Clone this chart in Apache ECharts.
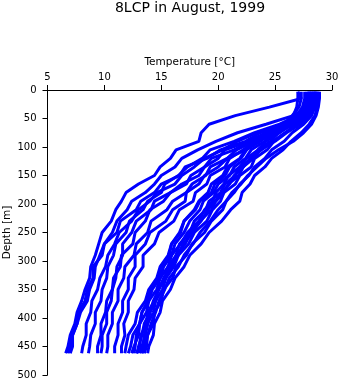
<!DOCTYPE html>
<html>
<head>
<meta charset="utf-8">
<script src="https://cdn.jsdelivr.net/npm/echarts@6/dist/echarts.min.js"></script>
<style>
  html, body { margin: 0; padding: 0; background: #fff; }
  #chart { width: 341px; height: 384px; }
</style>
</head>
<body>
<div id="chart"></div>
<script>
// Sampling depths (m) shared by every CTD cast
const depths = [3, 15, 30, 45, 60, 75, 90, 105, 120, 135, 150, 165, 180, 195, 210, 230, 250, 270, 290, 310, 330, 350, 370, 390, 410, 430, 450, 462];

// Temperature (°C) per cast at the depths above
const cast01 = [27.0, 27.3, 24.5, 21.5, 19.2, 18.5, 18.3, 16.3, 15.8, 14.9, 14.4, 13.0, 11.9, 11.5, 11.0, 10.6, 9.8, 9.5, 9.2, 8.8, 8.7, 8.3, 8.0, 7.6, 7.4, 7.0, 6.8, 6.6];
const cast02 = [28.2, 28.2, 27.8, 26.6, 24.2, 21.7, 19.8, 18.2, 16.8, 16.2, 15.0, 14.4, 13.6, 12.4, 12.0, 11.1, 10.7, 10.0, 9.6, 9.2, 9.1, 8.7, 8.5, 7.9, 7.6, 7.2, 7.0, 6.8];
const cast03 = [28.4, 28.4, 28.2, 27.5, 25.8, 23.4, 21.7, 20.4, 18.8, 17.9, 16.8, 16.2, 14.6, 14.0, 13.0, 12.4, 11.3, 10.9, 10.3, 10.1, 9.6, 9.4, 8.9, 8.8, 8.4, 8.4, 8.1, 8.0];
const cast04 = [27.9, 27.9, 27.7, 27.0, 25.4, 23.2, 21.4, 19.3, 18.6, 17.3, 16.5, 15.3, 15.0, 13.8, 13.4, 12.2, 11.9, 11.0, 10.8, 10.3, 10.2, 9.8, 9.7, 9.2, 9.2, 8.8, 8.7, 8.6];
const cast05 = [28.6, 28.6, 28.4, 27.9, 26.8, 24.9, 22.8, 21.4, 19.4, 18.8, 17.6, 17.2, 15.8, 15.2, 14.0, 13.6, 12.7, 12.5, 11.5, 11.4, 10.8, 10.7, 10.2, 10.1, 9.7, 9.7, 9.4, 9.4];
const cast06 = [27.6, 27.6, 27.4, 26.9, 25.9, 24.2, 22.7, 20.6, 20.0, 18.8, 18.3, 16.8, 15.8, 14.4, 14.1, 12.8, 12.4, 11.6, 11.6, 11.1, 11.0, 10.7, 10.6, 10.2, 10.2, 9.8, 9.8, 9.7];
const cast07 = [28.5, 28.5, 28.3, 27.6, 26.2, 24.5, 23.1, 21.6, 20.8, 19.3, 18.9, 17.7, 17.2, 16.0, 15.5, 14.1, 13.8, 12.8, 12.6, 11.8, 11.7, 11.2, 11.2, 10.7, 10.7, 10.3, 10.3, 10.2];
const cast08 = [28.1, 28.1, 27.9, 27.3, 26.4, 25.2, 23.4, 22.4, 20.8, 20.0, 18.8, 18.3, 17.2, 17.1, 16.0, 15.4, 14.0, 13.6, 12.7, 12.7, 12.1, 12.1, 11.6, 11.6, 11.2, 11.2, 10.9, 10.9];
const cast09 = [27.8, 27.8, 27.6, 26.8, 25.6, 23.7, 22.4, 20.2, 19.0, 17.1, 16.6, 15.0, 14.4, 13.2, 12.8, 11.4, 11.1, 10.0, 9.8, 9.0, 9.0, 8.5, 8.3, 7.7, 7.6, 7.2, 7.2, 7.0];
const cast10 = [28.0, 28.0, 27.8, 27.2, 26.0, 24.8, 23.1, 22.2, 21.0, 20.6, 19.3, 19.0, 18.0, 17.8, 16.6, 16.1, 14.8, 14.4, 13.4, 13.4, 12.7, 12.6, 12.1, 12.1, 11.7, 11.8, 11.5, 11.5];
const cast11 = [28.8, 28.8, 28.7, 28.5, 28.0, 27.3, 26.4, 25.7, 24.7, 24.1, 23.2, 22.8, 22.1, 21.9, 21.1, 20.3, 19.2, 18.5, 17.5, 17.0, 16.2, 15.8, 15.1, 14.9, 14.4, 14.3, 13.9, 13.8];
const cast12 = [28.6, 28.6, 28.5, 28.2, 27.5, 26.5, 25.8, 24.7, 24.1, 23.2, 22.7, 21.9, 21.4, 20.7, 20.4, 19.4, 18.8, 17.7, 17.2, 16.3, 16.0, 15.2, 15.0, 14.4, 14.3, 13.8, 13.7, 13.5];
const cast13 = [28.4, 28.4, 28.3, 27.8, 27.0, 25.9, 24.9, 24.3, 23.2, 22.9, 21.9, 21.5, 20.5, 20.2, 19.5, 19.0, 17.9, 17.4, 16.5, 16.1, 15.4, 15.1, 14.5, 14.3, 13.8, 13.6, 13.3, 13.1];
const cast14 = [28.7, 28.7, 28.5, 28.0, 27.2, 26.0, 25.0, 23.7, 23.1, 22.2, 21.8, 20.9, 20.5, 19.8, 19.4, 18.4, 17.8, 16.9, 16.5, 15.7, 15.4, 14.7, 14.4, 13.8, 13.7, 13.2, 13.1, 12.8];
const cast15 = [28.2, 28.2, 28.0, 27.4, 26.5, 25.4, 24.2, 23.5, 22.5, 21.9, 20.9, 20.5, 19.8, 19.5, 18.8, 18.3, 17.3, 16.7, 15.9, 15.6, 14.9, 14.6, 13.9, 13.7, 13.1, 13.0, 12.6, 12.4];
const cast16 = [28.5, 28.5, 28.3, 27.7, 26.6, 25.1, 24.1, 22.9, 22.4, 21.4, 21.0, 20.0, 19.6, 18.7, 18.4, 17.5, 17.0, 16.2, 15.9, 15.2, 14.9, 14.2, 13.9, 13.3, 13.1, 12.5, 12.3, 12.1];
const cast17 = [27.3, 27.3, 27.1, 26.5, 25.8, 24.7, 23.7, 22.5, 22.0, 21.0, 20.6, 19.7, 19.4, 18.4, 18.0, 17.0, 16.6, 15.9, 15.6, 14.9, 14.6, 13.9, 13.6, 12.9, 12.7, 12.1, 11.9, 11.8];
const cast18 = [27.0, 27.0, 26.9, 26.6, 26.0, 25.3, 24.6, 23.5, 23.0, 21.9, 21.5, 20.6, 20.2, 19.2, 18.9, 17.9, 17.5, 16.6, 16.3, 15.6, 15.3, 14.7, 14.5, 14.0, 13.8, 13.5, 13.4, 13.3];
const cast19 = [28.3, 28.3, 28.0, 27.1, 25.9, 24.5, 23.5, 22.4, 21.9, 20.8, 20.4, 19.4, 19.1, 18.3, 17.9, 17.0, 16.7, 15.9, 15.7, 15.0, 14.7, 14.0, 13.8, 13.3, 13.1, 12.8, 12.7, 12.6];
const cast20 = [28.9, 28.9, 28.8, 28.6, 28.2, 27.5, 26.6, 25.3, 24.2, 23.4, 22.6, 22.0, 21.2, 20.7, 20.0, 19.3, 18.4, 17.8, 17.0, 16.5, 15.7, 15.3, 14.8, 14.5, 14.1, 13.8, 13.5, 13.3];
const cast21 = [28.0, 28.0, 27.9, 27.5, 26.9, 25.9, 24.8, 23.8, 22.8, 22.2, 21.4, 21.0, 20.3, 19.7, 19.1, 18.5, 17.6, 17.1, 16.3, 15.9, 15.2, 14.8, 14.3, 14.0, 13.5, 13.3, 13.0, 12.9];

const casts = [cast01, cast02, cast03, cast04, cast05, cast06, cast07, cast08, cast09, cast10, cast11,
               cast12, cast13, cast14, cast15, cast16, cast17, cast18, cast19, cast20, cast21];

// Tick values on both axes
const tempTicks = [5, 10, 15, 20, 25, 30];
const depthTicks = [0, 50, 100, 150, 200, 250, 300, 350, 400, 450, 500];

const FONT = 'DejaVu Sans';
const chart = echarts.init(document.getElementById('chart'), null, { renderer: 'canvas' });

chart.setOption({
  animation: false,
  backgroundColor: '#ffffff',
  title: {
    text: '8LCP in August, 1999',
    left: 190,
    top: 0,
    padding: [1, 0, 0, 0],
    textAlign: 'center',
    textStyle: { fontFamily: FONT, fontSize: 14, fontWeight: 'normal', color: '#000' }
  },
  grid: { left: 47.5, right: 9, top: 90, bottom: 9, containLabel: false, outerBoundsMode: 'none' },
  xAxis: {
    type: 'value',
    position: 'top',
    min: tempTicks[0],
    max: tempTicks[tempTicks.length - 1],
    interval: 5,
    name: 'Temperature [°C]',
    nameLocation: 'middle',
    nameGap: 22,
    nameMoveOverlap: false,
    nameTextStyle: { fontFamily: FONT, fontSize: 10.5, color: '#000' },
    axisLine: { show: true, onZero: false, lineStyle: { color: '#000', width: 1 } },
    axisTick: { show: true, inside: false, length: 5, lineStyle: { color: '#000' } },
    axisLabel: { margin: 8, fontFamily: FONT, fontSize: 10, color: '#000' },
    splitLine: { show: false }
  },
  yAxis: {
    type: 'value',
    inverse: true,
    min: depthTicks[0],
    max: depthTicks[depthTicks.length - 1],
    interval: 50,
    name: 'Depth [m]',
    nameLocation: 'middle',
    nameGap: 35,
    nameRotate: 90,
    nameMoveOverlap: false,
    nameTextStyle: { fontFamily: FONT, fontSize: 10.5, color: '#000' },
    axisLine: { show: true, onZero: false, lineStyle: { color: '#000', width: 1 } },
    axisTick: { show: true, inside: false, length: 5, lineStyle: { color: '#000' } },
    axisLabel: { margin: 11, fontFamily: FONT, fontSize: 10, color: '#000' },
    splitLine: { show: false }
  },
  series: casts.map((temps, i) => ({
    name: 'cast' + (i + 1),
    type: 'line',
    data: temps.map((t, k) => [t, depths[k]]),
    showSymbol: false,
    symbol: 'none',
    smooth: false,
    clip: true,
    lineStyle: { color: '#0000ff', width: 3 },
    itemStyle: { color: '#0000ff' }
  }))
});
</script>
</body>
</html>
